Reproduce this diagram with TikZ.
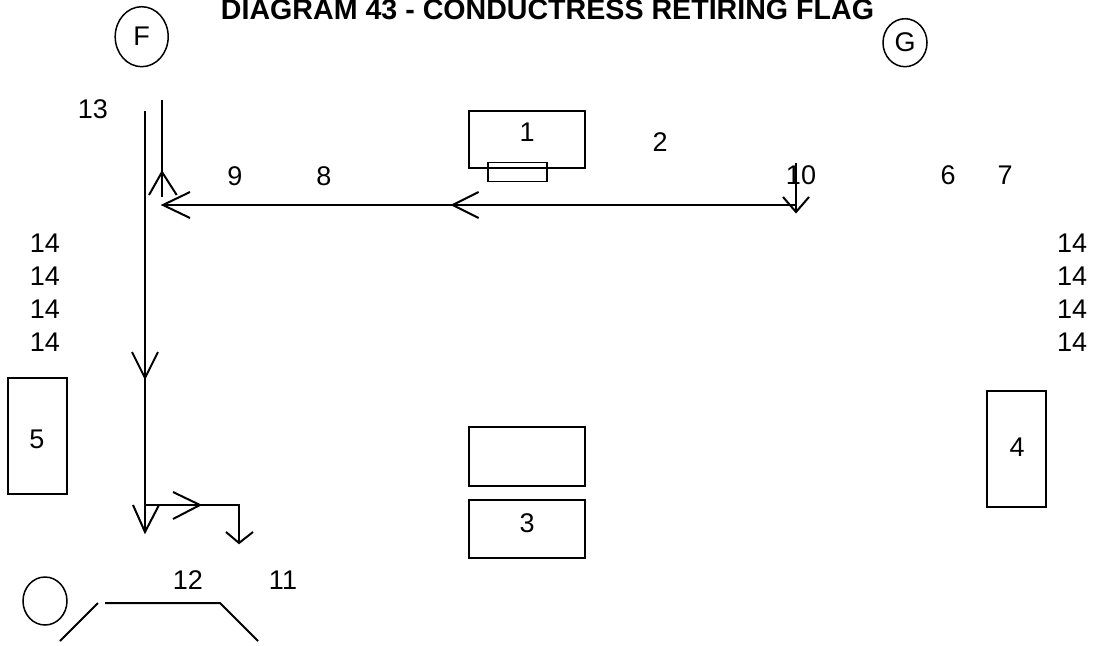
\documentclass[tikz,border=0pt]{standalone}
\usepackage{fontspec}
\setmainfont{Liberation Sans}
\usetikzlibrary{shapes.geometric,calc}
\begin{document}
\begin{tikzpicture}[x=1pt,y=-1pt,
  lbl/.style={inner sep=0pt,font=\fontsize{27}{30}\selectfont},
  titlelbl/.style={inner sep=0pt,font=\bfseries\fontsize{28.6}{32}\selectfont,anchor=base},
  flow/.style={line width=2pt,line cap=butt},
  boxn/.style={draw,line width=1.3pt,inner sep=0pt},
  ring/.style={draw,ellipse,line width=1.5pt,inner sep=0pt,font=\fontsize{27}{30}\selectfont}]
\useasboundingbox (0,0) rectangle (1099,645);

% title
\node[titlelbl] (title) at (547.5,19) {DIAGRAM 43 - CONDUCTRESS RETIRING FLAG};

% circles
\node[ring,minimum width=53,minimum height=60] (F) at (141.7,36.7) {F};
\node[ring,minimum width=44,minimum height=48] (G) at (905,42.7) {G};
\node[ring,minimum width=44,minimum height=48] (head) at (45,601) {};

% boxes
\node[boxn,minimum width=116,minimum height=57] (b1) at (527,139.4) {};
\node[boxn,minimum width=59,minimum height=19] (flag) at (517.5,172.2) {};
\node[boxn,minimum width=116,minimum height=59] (bx) at (527,456.5) {};
\node[boxn,minimum width=116,minimum height=58] (b3) at (527,529) {};
\node[boxn,minimum width=59,minimum height=116] (b5) at (37.5,436) {};
\node[boxn,minimum width=59,minimum height=116] (b4) at (1016.5,449) {};

% labels
\node[lbl] (l1) at (527,132.5) {1};
\node[lbl] (l2) at (660,142.5) {2};
\node[lbl] (l3) at (527,523) {3};
\node[lbl] (l4) at (1017,447.5) {4};
\node[lbl] (l5) at (37,439) {5};
\node[lbl] (l6) at (948,175) {6};
\node[lbl] (l7) at (1005,175) {7};
\node[lbl] (l8) at (324,176) {8};
\node[lbl] (l9) at (235,176) {9};
\node[lbl] (l10) at (801,175) {10};
\node[lbl] (l11) at (283,580) {11};
\node[lbl] (l12) at (188,580) {12};
\node[lbl] (l13) at (93,109) {13};
\foreach \yy/\nm in {242.8/a,276/b,309/c,342/d}{
  \node[lbl] (ll\nm) at (45,\yy) {14};
  \node[lbl] (lr\nm) at (1072,\yy) {14};
}

% coordinates
\coordinate (v1top) at (145,111);
\coordinate (v1mid) at (145,378);
\coordinate (v1knee) at (145,505);
\coordinate (v1end) at (145,532);
\coordinate (v2top) at (162,100);
\coordinate (v2arr) at (162,172);
\coordinate (v2end) at (162,197);
\coordinate (hleft) at (163,205);
\coordinate (hmid) at (452.7,205);
\coordinate (hright) at (796,205);
\coordinate (dtop) at (796,163);
\coordinate (dend) at (796,212);
\coordinate (rtip) at (200,505);
\coordinate (rcorner) at (239,505);
\coordinate (rend) at (239,543);

% main left line with arrows
\draw[flow] (v1top) -- (v1end);
\draw[flow] ($(v1mid)+(-13,-26)$) -- (v1mid) -- ($(v1mid)+(13,-26)$);
\draw[flow] ($(v1end)+(-12,-27)$) -- (v1end) -- ($(v1end)+(14,-27)$);

% second vertical line with up arrow
\draw[flow] (v2top) -- (v2end);
\draw[flow] ($(v2arr)+(-13,23)$) -- (v2arr) -- ($(v2arr)+(14.7,23)$);

% horizontal line with arrows
\draw[flow] (hright) -- (hleft);
\draw[flow] ($(hleft)+(27,-13)$) -- (hleft) -- ($(hleft)+(27,13)$);
\draw[flow] ($(hmid)+(26,-13)$) -- (hmid) -- ($(hmid)+(26,13)$);
\draw[flow] (dtop) -- (dend);
\draw[flow] ($(dend)+(-13,-15)$) -- (dend) -- ($(dend)+(13,-15)$);

% bottom branch
\draw[flow] (v1knee) -- (rcorner) -- (rend);
\draw[flow] ($(rtip)+(-27,-13)$) -- (rtip) -- ($(rtip)+(-27,14)$);
\draw[flow] ($(rend)+(-13,-11)$) -- (rend) -- ($(rend)+(14,-11)$);

% body
\coordinate (arm1) at (60,641);
\coordinate (arm2) at (98,603);
\coordinate (sh1) at (105,603);
\coordinate (sh2) at (220,603);
\coordinate (leg) at (258,641);
\draw[flow] (arm1) -- (arm2);
\draw[flow] (sh1) -- (sh2) -- (leg);
\end{tikzpicture}
\end{document}
